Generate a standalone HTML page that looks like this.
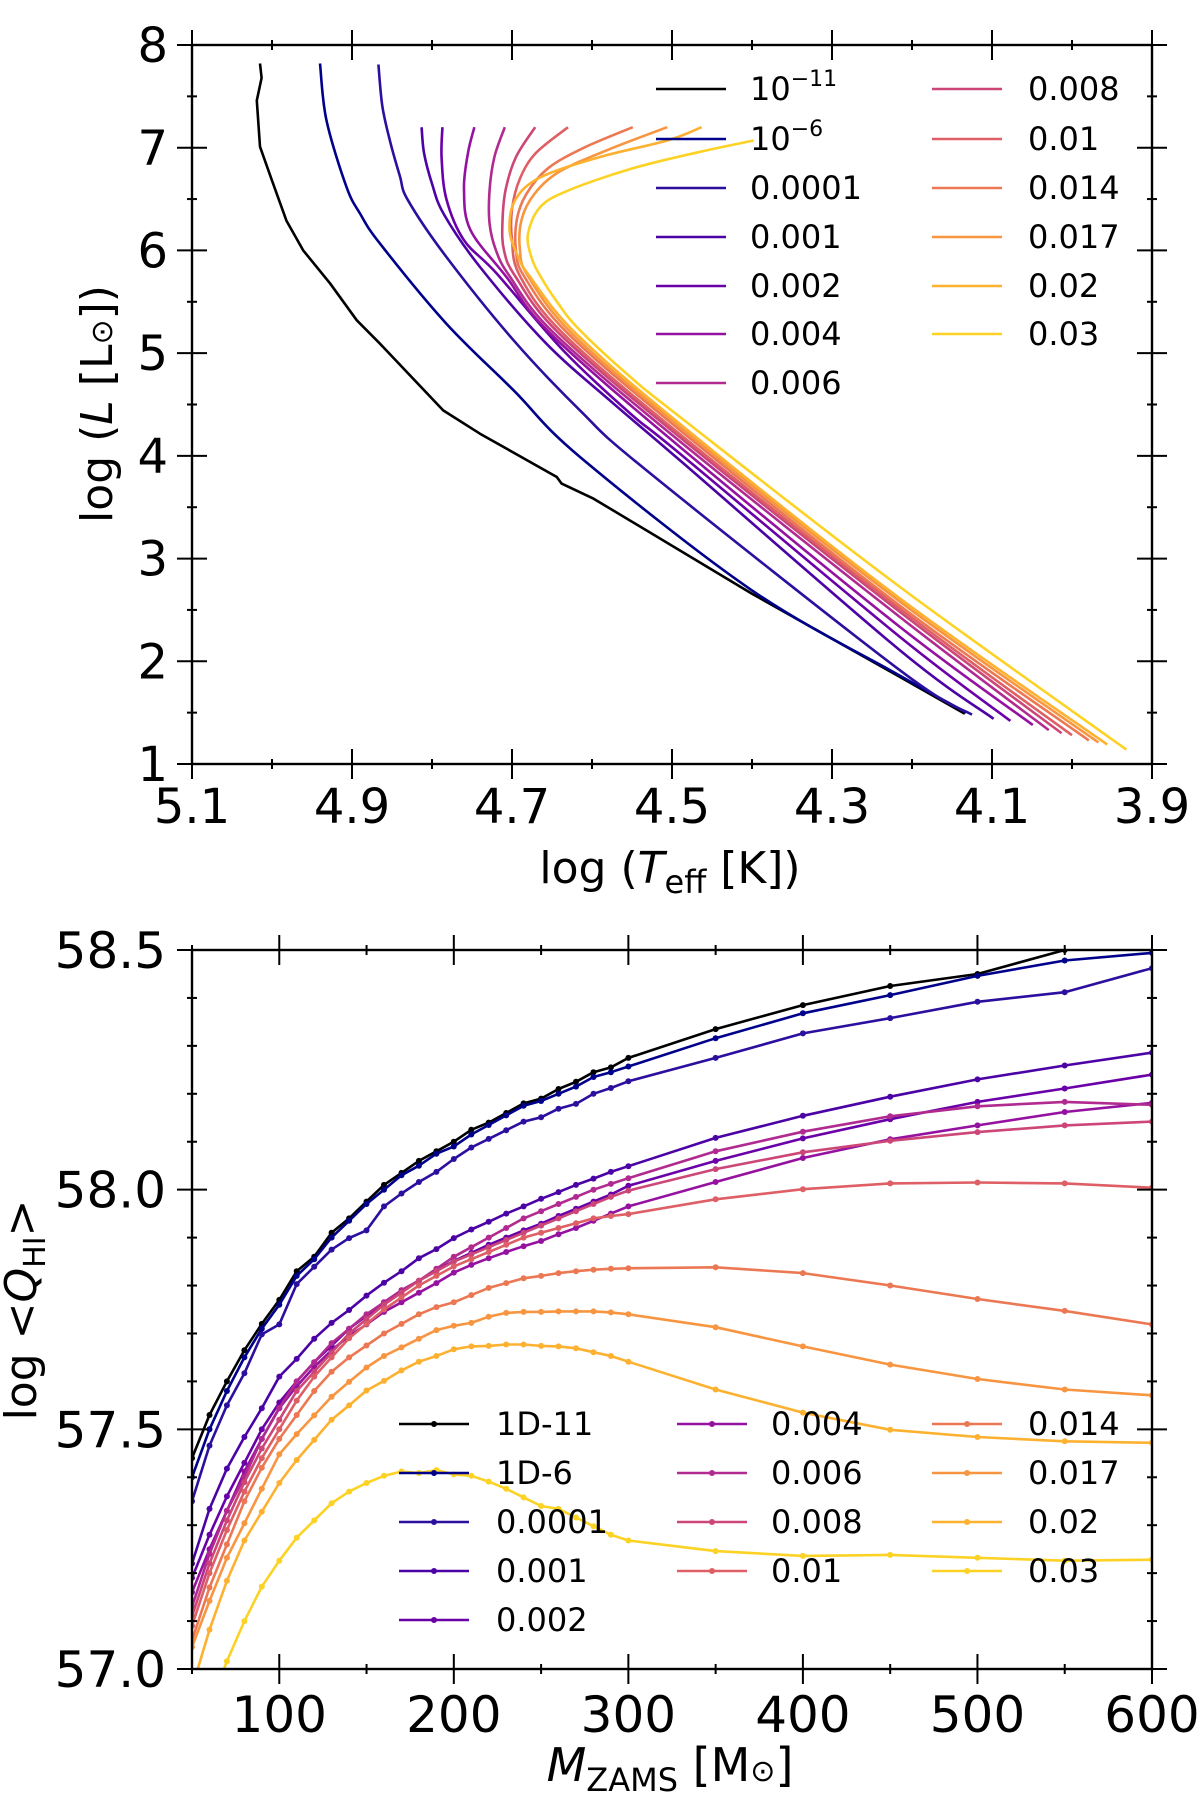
<!DOCTYPE html>
<html><head><meta charset="utf-8">
<style>
html,body{margin:0;padding:0;background:#fff;}
svg{display:block;font-family:"DejaVu Sans","Liberation Sans",sans-serif;}
</style></head>
<body>
<svg id="fig" width="1200" height="1805" viewBox="0 0 1200 1805" xmlns="http://www.w3.org/2000/svg">
<defs>
<clipPath id="clipTop"><rect x="192" y="45" width="960" height="719"/></clipPath>
<clipPath id="clipBot"><rect x="192" y="950" width="960" height="719"/></clipPath>
</defs>
<g id="topPanelG"></g>
<g id="botPanelG"></g>
</svg>
<script>
// ---------- Data: HR tracks (logTeff, logL) ----------
const hrLabels = ["10^-11","10^-6","0.0001","0.001","0.002","0.004","0.006","0.008","0.01","0.014","0.017","0.02","0.03"];
const hrColors = ["#000000","#00008b","#2c0f9e","#4b03a5","#6a00a8","#9512a1","#b12a90","#cc4778","#de5f65","#ec7853","#f89540","#fdb130","#fcd225"];
const hrT_1e11 = [5.015,5.013,5.019,5.015,5.000,4.982,4.961,4.9275,4.894,4.865,4.786,4.740,4.644,4.638,4.598,4.400,4.215,4.134];
const hrL_1e11 = [7.82,7.68,7.46,7.01,6.68,6.29,6.00,5.68,5.32,5.092,4.443,4.216,3.794,3.73,3.583,2.658,1.847,1.49];
const hrT_1e6 = [4.940,4.932,4.907,4.890,4.865,4.782,4.698,4.615,4.400,4.215,4.132];
const hrL_1e6 = [7.82,7.27,6.62,6.36,6.066,5.287,4.638,3.989,2.69,1.86,1.50];
const hrT_0001 = [4.867,4.862,4.852,4.840,4.830,4.782,4.698,4.615,4.532,4.215,4.125];
const hrL_0001 = [7.81,7.40,7.05,6.72,6.488,5.936,5.125,4.443,3.859,1.912,1.48];
const hrT_001 = [4.813,4.810,4.800,4.785,4.740,4.657,4.573,4.490,4.215,4.098];
const hrL_001 = [7.20,6.95,6.65,6.35,5.839,5.092,4.508,3.956,2.106,1.44];
const hrT_002 = [4.787,4.788,4.782,4.760,4.719,4.636,4.552,4.490,4.215,4.077];
const hrL_002 = [7.20,6.90,6.50,6.10,5.774,5.027,4.411,4.021,2.236,1.42];
const hrT_004 = [4.747,4.755,4.760,4.752,4.707,4.652,4.490,4.215,4.049];
const hrL_004 = [7.20,6.95,6.60,6.20,5.742,5.19,4.086,2.334,1.38];
const hrT_006 = [4.709,4.722,4.728,4.728,4.720,4.703,4.647,4.490,4.215,4.029];
const hrL_006 = [7.20,6.91,6.59,6.26,6.00,5.75,5.19,4.14,2.43,1.33];
const hrT_008 = [4.671,4.695,4.708,4.712,4.710,4.696,4.641,4.490,4.215,4.013];
const hrL_008 = [7.20,6.91,6.59,6.26,6.00,5.75,5.19,4.18,2.48,1.30];
const hrT_01 = [4.630,4.670,4.690,4.700,4.700,4.690,4.636,4.490,4.215,4.000];
const hrL_01 = [7.20,6.95,6.70,6.40,6.10,5.75,5.19,4.21,2.51,1.28];
const hrT_014 = [4.549,4.610,4.655,4.682,4.694,4.695,4.685,4.630,4.490,4.215,3.979];
const hrL_014 = [7.20,7.00,6.80,6.55,6.30,6.00,5.75,5.19,4.25,2.54,1.23];
const hrT_017 = [4.506,4.580,4.640,4.672,4.688,4.690,4.680,4.625,4.490,4.215,3.967];
const hrL_017 = [7.20,6.98,6.77,6.55,6.30,6.00,5.75,5.19,4.28,2.58,1.21];
const hrT_02 = [4.463,4.506,4.590,4.665,4.696,4.703,4.693,4.678,4.620,4.490,4.215,3.956];
const hrL_02 = [7.20,7.07,6.91,6.71,6.49,6.20,5.95,5.75,5.19,4.31,2.61,1.19];
const hrT_03 = [4.398,4.465,4.549,4.631,4.665,4.680,4.676,4.664,4.642,4.615,4.552,4.490,4.215,3.932];
const hrL_03 = [7.07,6.96,6.80,6.58,6.42,6.163,5.94,5.742,5.48,5.222,4.768,4.378,2.723,1.14];
const hrTs = [hrT_1e11,hrT_1e6,hrT_0001,hrT_001,hrT_002,hrT_004,hrT_006,hrT_008,hrT_01,hrT_014,hrT_017,hrT_02,hrT_03];
const hrLs = [hrL_1e11,hrL_1e6,hrL_0001,hrL_001,hrL_002,hrL_004,hrL_006,hrL_008,hrL_01,hrL_014,hrL_017,hrL_02,hrL_03];
const hrXTicks = [5.1,4.9,4.7,4.5,4.3,4.1,3.9];
const hrYTicks = [1,2,3,4,5,6,7,8];

// ---------- Data: Q_HI vs M_ZAMS ----------
const qLabels = ["1D-11","1D-6","0.0001","0.001","0.002","0.004","0.006","0.008","0.01","0.014","0.017","0.02","0.03"];
const masses = [50,60,70,80,90,100,110,120,130,140,150,160,170,180,190,200,210,220,230,240,250,260,270,280,290,300,350,400,450,500,550,600];
const q_1e11 = [57.44,57.53,57.60,57.665,57.72,57.77,57.83,57.86,57.91,57.94,57.975,58.01,58.035,58.06,58.08,58.10,58.125,58.14,58.16,58.18,58.19,58.21,58.225,58.245,58.255,58.275,58.335,58.385,58.425,58.45,58.50,58.54];
const q_1e6 = [57.40,57.50,57.58,57.65,57.71,57.76,57.82,57.855,57.90,57.935,57.97,58.00,58.03,58.05,58.075,58.09,58.115,58.135,58.155,58.175,58.185,58.20,58.215,58.235,58.245,58.257,58.316,58.368,58.406,58.446,58.478,58.494];
const q_0001 = [57.35,57.466,57.55,57.617,57.698,57.719,57.803,57.839,57.875,57.899,57.915,57.965,57.992,58.016,58.037,58.064,58.088,58.106,58.124,58.142,58.151,58.169,58.179,58.20,58.212,58.226,58.275,58.326,58.358,58.392,58.412,58.462];
const q_001 = [57.22,57.334,57.418,57.484,57.544,57.61,57.647,57.689,57.722,57.749,57.779,57.806,57.83,57.857,57.876,57.899,57.917,57.933,57.95,57.965,57.981,57.995,58.01,58.023,58.037,58.049,58.108,58.154,58.194,58.23,58.259,58.286];
const q_002 = [57.19,57.28,57.36,57.43,57.50,57.556,57.60,57.64,57.675,57.71,57.737,57.765,57.79,57.81,57.832,57.851,57.868,57.885,57.90,57.915,57.929,57.945,57.96,57.975,57.99,58.008,58.060,58.107,58.147,58.183,58.211,58.240];
const q_004 = [57.16,57.25,57.33,57.412,57.48,57.544,57.59,57.63,57.665,57.695,57.719,57.745,57.765,57.785,57.805,57.827,57.843,57.857,57.87,57.882,57.893,57.907,57.92,57.935,57.95,57.965,58.016,58.066,58.105,58.134,58.162,58.181];
const q_006 = [57.13,57.24,57.33,57.40,57.48,57.545,57.60,57.64,57.68,57.71,57.74,57.765,57.79,57.81,57.835,57.86,57.88,57.90,57.92,57.94,57.955,57.97,57.985,58.0,58.012,58.024,58.080,58.121,58.153,58.174,58.183,58.177];
const q_008 = [57.11,57.22,57.31,57.39,57.46,57.52,57.58,57.62,57.66,57.70,57.73,57.76,57.785,57.81,57.83,57.85,57.865,57.88,57.895,57.91,57.925,57.94,57.955,57.97,57.985,57.998,58.043,58.078,58.102,58.12,58.134,58.142];
const q_01 = [57.09,57.20,57.29,57.37,57.44,57.50,57.56,57.61,57.65,57.69,57.72,57.75,57.775,57.80,57.82,57.84,57.855,57.87,57.885,57.90,57.91,57.92,57.93,57.94,57.945,57.949,57.98,58.001,58.013,58.015,58.013,58.004];
const q_014 = [57.06,57.17,57.26,57.35,57.42,57.48,57.53,57.58,57.62,57.65,57.675,57.70,57.72,57.74,57.755,57.765,57.78,57.795,57.805,57.815,57.82,57.826,57.83,57.833,57.835,57.836,57.838,57.826,57.80,57.772,57.747,57.719];
const q_017 = [57.046,57.142,57.232,57.304,57.376,57.448,57.49,57.529,57.568,57.599,57.629,57.653,57.671,57.689,57.707,57.716,57.722,57.735,57.743,57.745,57.745,57.746,57.746,57.746,57.744,57.740,57.713,57.673,57.635,57.605,57.583,57.571];
const q_02 = [56.96,57.082,57.184,57.268,57.328,57.388,57.436,57.478,57.52,57.55,57.581,57.601,57.623,57.641,57.653,57.667,57.673,57.674,57.677,57.677,57.674,57.673,57.669,57.661,57.653,57.641,57.583,57.535,57.499,57.484,57.475,57.472];
const q_03 = [56.80,56.92,57.016,57.10,57.172,57.226,57.274,57.31,57.346,57.37,57.388,57.403,57.412,57.409,57.415,57.406,57.403,57.391,57.376,57.358,57.340,57.334,57.316,57.298,57.28,57.268,57.246,57.236,57.238,57.232,57.226,57.228];
const qSeries = [q_1e11,q_1e6,q_0001,q_001,q_002,q_004,q_006,q_008,q_01,q_014,q_017,q_02,q_03];
const qXTicks = [100,200,300,400,500,600];
const qYTicks = [57.0,57.5,58.0,58.5];

const NS = "http://www.w3.org/2000/svg";
function mk(parent, tag, attrs, text){
  const e = document.createElementNS(NS, tag);
  for (const k in attrs) e.setAttribute(k, attrs[k]);
  if (text !== undefined) e.textContent = text;
  parent.appendChild(e);
  return e;
}

// ---------- Top panel axes ----------
const TL=192, TR=1152, TT=45, TB=764;
const xT = t => TL + (5.1 - t) / 1.2 * (TR-TL);
const yL = l => TB - (l - 1) / 7 * (TB-TT);
const topPanel = document.getElementById('topPanelG');

function frame(g, L, R, T, B){
  const r = mk(g,'rect',{x:L,y:T,width:R-L,height:B-T,fill:'none',stroke:'#000','stroke-width':2.4});
  
  
}
function tick(g, x1,y1,x2,y2,name){
  const t = mk(g,'line',{x1:x1,y1:y1,x2:x2,y2:y2,stroke:'#000','stroke-width':2});
  
  
}

const gTracks = mk(topPanel,'g',{'clip-path':'url(#clipTop)'});


function smoothPath(pts){
  let d = `M${pts[0][0].toFixed(1)},${pts[0][1].toFixed(1)}`;
  for (let i=0;i<pts.length-1;i++){
    const p0 = pts[Math.max(0,i-1)], p1 = pts[i], p2 = pts[i+1], p3 = pts[Math.min(pts.length-1,i+2)];
    const c1x = p1[0]+(p2[0]-p0[0])/6, c1y = p1[1]+(p2[1]-p0[1])/6;
    const c2x = p2[0]-(p3[0]-p1[0])/6, c2y = p2[1]-(p3[1]-p1[1])/6;
    d += ` C${c1x.toFixed(1)},${c1y.toFixed(1)} ${c2x.toFixed(1)},${c2y.toFixed(1)} ${p2[0].toFixed(1)},${p2[1].toFixed(1)}`;
  }
  return d;
}
hrTs.forEach((Ts,i)=>{
  const pts = Ts.map((t,j)=>[xT(t), yL(hrLs[i][j])]);
  let d;
  if (i===0) d = 'M' + pts.map(p=>p[0].toFixed(1)+','+p[1].toFixed(1)).join(' L');
  else d = smoothPath(pts);
  const p = mk(gTracks,'path',{d:d,fill:'none',stroke:hrColors[i],'stroke-width':2.6,'stroke-linejoin':'round','stroke-linecap':'butt'});
  
  
});

frame(topPanel,TL,TR,TT,TB);
for (let k=0;k<=12;k++){
  const v = 5.1 - k*0.1, x = xT(v), major = (k%2===0), s = major?15:5;
  tick(topPanel,x,TB-s,x,TB+s,'x-tick');
  tick(topPanel,x,TT-s,x,TT+s,'x-tick-top');
}
hrXTicks.forEach(v=>{
  const t = mk(topPanel,'text',{x:xT(v),y:823,'font-size':48,'text-anchor':'middle',fill:'#000'},v.toFixed(1));
  
  
});
for (let k=0;k<=14;k++){
  const v = 1 + k*0.5, y = yL(v), major = (k%2===0), s = major?15:5;
  tick(topPanel,TL-s,y,TL+s,y,'y-tick');
  tick(topPanel,TR-s,y,TR+s,y,'y-tick-right');
}
hrYTicks.forEach(v=>{
  const t = mk(topPanel,'text',{x:168,y:yL(v)+17,'font-size':48,'text-anchor':'end',fill:'#000'},String(v));
  
  
});
(function(){
  const t = mk(topPanel,'text',{x:670,y:883,'font-size':44,'text-anchor':'middle',fill:'#000'});
  t.innerHTML = 'log (<tspan font-style="italic">T</tspan><tspan font-size="32" dy="10">eff</tspan><tspan dy="-10"> [K])</tspan>';
  
  
  const y = mk(topPanel,'text',{x:0,y:0,'font-size':44,'text-anchor':'middle',fill:'#000',transform:'translate(112,404) rotate(-90)'});
  y.innerHTML = 'log (<tspan font-style="italic">L</tspan> [L<tspan font-size="30">⊙</tspan>])';
  
  
})();
const legTop = mk(topPanel,'g',{});


const legTopRowsY = [89,139,188,237,286,334,383];
hrLabels.forEach((lab,i)=>{
  const col = i<7?0:1, row = i<7?i:i-7;
  const lx = col===0?656:932, tx = col===0?750:1028, y = legTopRowsY[row];
  const g = mk(legTop,'g',{});
  
  
  mk(g,'line',{x1:lx,y1:y,x2:lx+70,y2:y,stroke:hrColors[i],'stroke-width':2.6});
  const t = mk(g,'text',{x:tx,y:y+11,'font-size':32,fill:'#000'});
  if (lab.startsWith('10^')) t.innerHTML = '10<tspan font-size="22" dy="-14">'+lab.slice(3).replace('-','−')+'</tspan>';
  else t.textContent = lab;
});

// ---------- Bottom panel ----------
const BL=192, BR=1152, BT=950, BB=1669;
const xM = m => BL + (m-50)/550*(BR-BL);
const yQ = q => BB - (q-57.0)/1.5*(BB-BT);
const botPanel = document.getElementById('botPanelG');
const gSer = mk(botPanel,'g',{'clip-path':'url(#clipBot)'});


qSeries.forEach((vals,i)=>{
  const g = mk(gSer,'g',{});
  
  
  const d = 'M' + vals.map((v,j)=>xM(masses[j]).toFixed(1)+','+yQ(v).toFixed(1)).join(' L');
  mk(g,'path',{d:d,fill:'none',stroke:hrColors[i],'stroke-width':2.6,'stroke-linejoin':'round'});
  vals.forEach((v,j)=>{
    const c = mk(g,'circle',{cx:xM(masses[j]).toFixed(1),cy:yQ(v).toFixed(1),r:3,fill:hrColors[i]});
    
    
  });
});
frame(botPanel,BL,BR,BT,BB);
for (let m=50;m<=600;m+=50){
  const x = xM(m), major = (m%100===0), s = major?15:5;
  tick(botPanel,x,BB-s,x,BB+s,'x-tick');
  tick(botPanel,x,BT-s,x,BT+s,'x-tick-top');
}
qXTicks.forEach(v=>{
  const t = mk(botPanel,'text',{x:xM(v),y:1732,'font-size':50,'text-anchor':'middle',fill:'#000'},String(v));
  
  
});
for (let k=0;k<=15;k++){
  const v = 57 + k*0.1, y = yQ(v), major = (k%5===0), s = major?15:5;
  tick(botPanel,BL-s,y,BL+s,y,'y-tick');
  tick(botPanel,BR-s,y,BR+s,y,'y-tick-right');
}
qYTicks.forEach(v=>{
  const t = mk(botPanel,'text',{x:166,y:yQ(v)+18,'font-size':50,'text-anchor':'end',fill:'#000'},v.toFixed(1));
  
  
});
(function(){
  const t = mk(botPanel,'text',{x:670,y:1781,'font-size':46,'text-anchor':'middle',fill:'#000'});
  t.innerHTML = '<tspan font-style="italic">M</tspan><tspan font-size="32" dy="10">ZAMS</tspan><tspan dy="-10"> [M</tspan><tspan font-size="30">⊙</tspan>]';
  
  
  const y = mk(botPanel,'text',{x:0,y:0,'font-size':44,'text-anchor':'middle',fill:'#000',transform:'translate(36,1310) rotate(-90)'});
  y.innerHTML = 'log &lt;<tspan font-style="italic">Q</tspan><tspan font-size="30" dy="9">HI</tspan><tspan dy="-9">&gt;</tspan>';
  
  
})();
const legBot = mk(botPanel,'g',{});


const legBotRowsY = [1424,1473,1522,1571,1620];
qLabels.forEach((lab,i)=>{
  const col = i<5?0:(i<9?1:2), row = i<5?i:(i<9?i-5:i-9);
  const lx = [399,677,932][col], tx = [496,771,1028][col], y = legBotRowsY[row];
  const g = mk(legBot,'g',{});
  
  
  mk(g,'line',{x1:lx,y1:y,x2:lx+70,y2:y,stroke:hrColors[i],'stroke-width':2.6});
  mk(g,'circle',{cx:lx+35,cy:y,r:3,fill:hrColors[i]});
  mk(g,'text',{x:tx,y:y+11,'font-size':32,fill:'#000'},lab);
});
</script>
</body></html>
